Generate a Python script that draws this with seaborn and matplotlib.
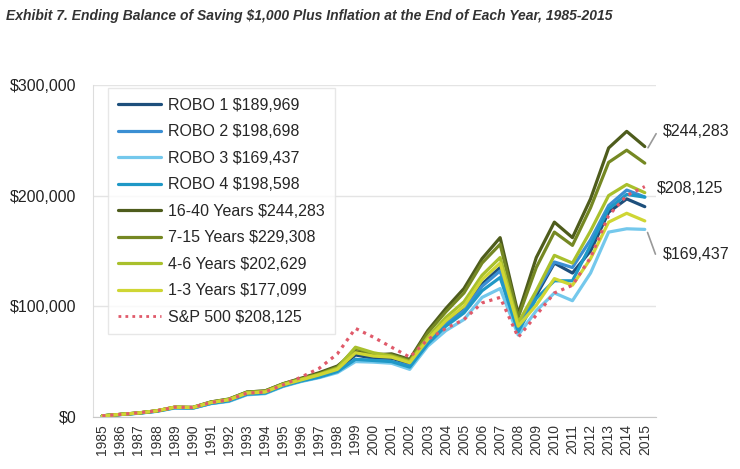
import pandas as pd
import matplotlib.pyplot as plt
import seaborn as sns

sns.set_style("white")
plt.rcParams["font.family"] = ["Liberation Sans", "DejaVu Sans"]

years = list(range(1985, 2016))

robo1 = [1000, 2200, 3500, 5300, 8500, 8200, 12500, 15000, 21000, 22000, 28500,
         33000, 37000, 42000, 56000, 53000, 53000, 48000, 69000, 86000, 97000,
         120000, 135000, 80000, 110000, 139000, 130000, 150000, 185000, 197000, 189969]
robo2 = [1000, 2200, 3400, 5200, 8300, 8000, 12200, 14500, 20500, 21500, 28000,
         32500, 36000, 41000, 52000, 51000, 50000, 46000, 68000, 84000, 96000,
         118000, 132000, 79000, 113000, 140000, 135000, 160000, 191000, 205000, 198698]
robo3 = [1000, 2100, 3300, 5000, 8000, 7800, 12000, 14000, 20000, 21000, 27500,
         32000, 35500, 40000, 50000, 49500, 48500, 43000, 64000, 78000, 88000,
         108000, 116000, 74000, 96000, 112000, 105000, 130000, 167000, 170000, 169437]
robo4 = [1000, 2200, 3400, 5200, 8300, 8000, 12200, 14500, 20500, 21500, 28000,
         32500, 36000, 41000, 52000, 51000, 50000, 45000, 66000, 82000, 94000,
         114000, 126000, 77000, 107000, 123000, 123000, 155000, 188000, 201000, 198598]
yrs_16_40 = [1000, 2300, 3600, 5500, 8800, 8600, 13500, 16000, 22500, 23500, 30000,
             35000, 40000, 46000, 59000, 56000, 57000, 52000, 78000, 98000, 116000,
             143000, 162000, 93000, 144000, 176000, 162000, 197000, 243000, 258000, 244283]
yrs_7_15 = [1000, 2300, 3600, 5500, 8800, 8600, 13500, 16200, 22500, 23500, 30000,
            34500, 39000, 45000, 62000, 57000, 56000, 51000, 76000, 95000, 112000,
            139000, 156000, 90000, 135000, 167000, 155000, 189000, 230000, 241000, 229308]
yrs_4_6 = [1000, 2300, 3600, 5500, 8800, 8500, 13000, 15800, 22000, 23000, 29500,
           34000, 38500, 44000, 63000, 58000, 55000, 50000, 72000, 90000, 104000,
           128000, 144000, 85000, 114000, 146000, 139000, 168000, 200000, 210000, 202629]
yrs_1_3 = [1000, 2300, 3600, 5500, 8800, 8500, 13000, 15500, 21500, 22500, 29000,
           33500, 38000, 43000, 58000, 55000, 54000, 49000, 70000, 87000, 100000,
           124000, 139000, 82000, 101000, 125000, 119000, 143000, 176000, 184000, 177099]
sp500 = [1000, 2300, 3700, 5500, 8800, 8600, 13000, 15500, 21500, 22500, 29000,
         36000, 44000, 57000, 80000, 72000, 63000, 54000, 70000, 80000, 88000,
         103000, 108000, 72000, 92000, 112000, 119000, 144000, 182000, 200000, 208125]

names = ["ROBO 1 $189,969", "ROBO 2 $198,698", "ROBO 3 $169,437", "ROBO 4 $198,598",
         "16-40 Years $244,283", "7-15 Years $229,308", "4-6 Years $202,629",
         "1-3 Years $177,099", "S&P 500 $208,125"]
series = [robo1, robo2, robo3, robo4, yrs_16_40, yrs_7_15, yrs_4_6, yrs_1_3, sp500]
colors = ["#1d4f7c", "#3b8fd3", "#74c8ec", "#1f98c6",
          "#4e5c1c", "#758823", "#a9c02c", "#cfd634", "#e05a6a"]

rows = []
for name, vals in zip(names, series):
    for y, v in zip(years, vals):
        rows.append({"year": y, "value": v, "series": name})
df = pd.DataFrame(rows)

palette = dict(zip(names, colors))
dashes = {n: "" for n in names}
dashes["S&P 500 $208,125"] = (1, 1.5)

fig = plt.figure(figsize=(7.4, 4.69), dpi=100)
ax = fig.add_axes([0.126, 0.111, 0.76, 0.708])

sns.lineplot(data=df, x="year", y="value", hue="series", style="series",
             palette=palette, dashes=dashes, linewidth=2.3, ax=ax)
for line in ax.get_lines():
    if line.get_label() == "S&P 500 $208,125":
        line.set_linewidth(2)

ax.set_xlim(1984.5, 2015.6)
ax.set_ylim(0, 300000)
ax.set_yticks([0, 100000, 200000, 300000])
ax.set_yticklabels(["$0", "$100,000", "$200,000", "$300,000"], fontsize=11.5, color="#222222")
ax.set_xticks(years)
ax.set_xticklabels([str(y) for y in years], rotation=90, fontsize=10, color="#333333")
ax.set_xticks([y + 0.5 for y in range(1984, 2016)], minor=True)
ax.tick_params(axis="x", which="major", length=0, pad=5)
ax.tick_params(axis="x", which="minor", length=4, color="#bbbbbb", direction="out")
ax.tick_params(axis="y", length=0, pad=12)
ax.set_xlabel("")
ax.set_ylabel("")
ax.grid(axis="y", color="#e4e4e4", linewidth=1)
sns.despine(ax=ax, top=True, right=True)
ax.spines["left"].set_color("#dddddd")
ax.spines["bottom"].set_color("#c8c8c8")

leg = ax.legend(loc="upper left", bbox_to_anchor=(0.027, 0.99), borderaxespad=0,
                fontsize=11.5, handlelength=2.7, handletextpad=0.45,
                labelspacing=0.72, frameon=True, edgecolor="#e2e2e2",
                borderpad=0.6, fancybox=False)
leg.get_frame().set_linewidth(1)

# end-value call-outs
ax.annotate("$244,283", xy=(2015.1, 241000), xytext=(2016.0, 258000),
            fontsize=11.5, va="center", ha="left", annotation_clip=False,
            arrowprops=dict(arrowstyle="-", color="#999999", lw=1.2, shrinkA=3,
                            connectionstyle="angle,angleA=0,angleB=60,rad=0"))
ax.text(2015.65, 206000, "$208,125", fontsize=11.5, va="center", ha="left")
ax.annotate("$169,437", xy=(2015.1, 169000), xytext=(2016.0, 147000),
            fontsize=11.5, va="center", ha="left", annotation_clip=False,
            arrowprops=dict(arrowstyle="-", color="#999999", lw=1.2, shrinkA=3,
                            connectionstyle="angle,angleA=0,angleB=-70,rad=0"))

fig.text(0.008, 0.965, "Exhibit 7. Ending Balance of Saving $1,000 Plus Inflation at the End of Each Year, 1985-2015",
         fontsize=10, fontweight="bold", fontstyle="italic", color="#333333", va="center")

plt.savefig("out.png", dpi=100)
plt.close()
